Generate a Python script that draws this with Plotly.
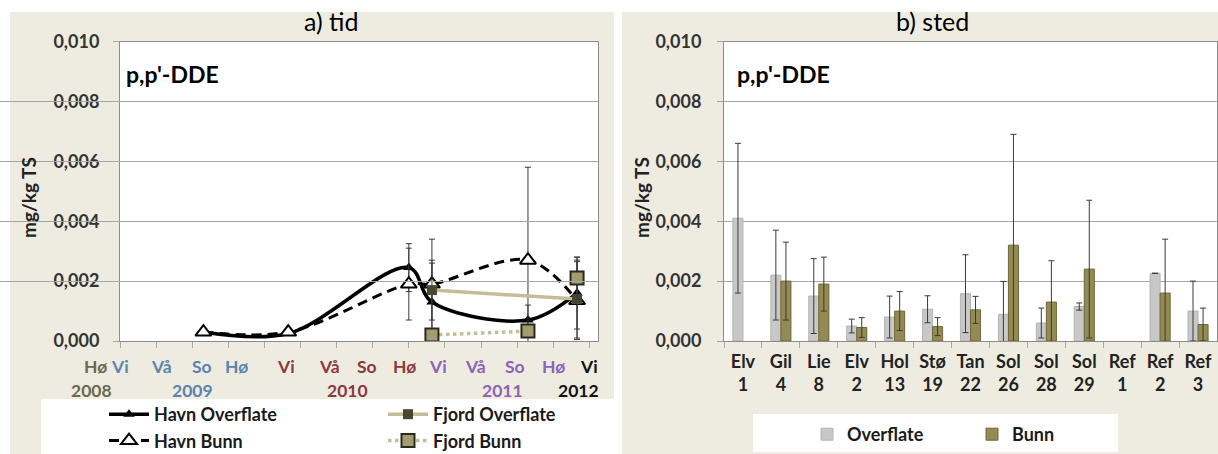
import plotly.graph_objects as go

W, H = 1218, 454

# ---------------- Left panel (a) tid) data ----------------
# x = season index (Hø 2008 = 0, Vi 2009 = 1, ..., Vi 2012 = 13)
havn_x = [3.31, 5.66, 9.0, 9.64, 12.3, 13.66]
havn_overflate = [0.0003, 0.00025, 0.00245, 0.0013, 0.0007, 0.0016]
havn_overflate_err = [0, 0, 0.0008, 0.0013, 0.0005, 0.0012]
havn_bunn = [0.0003, 0.0003, 0.0019, 0.0019, 0.0027, 0.00135]
havn_bunn_err = [0, 0, 0.0012, 0.0015, 0.0031, 0.0013]
fjord_overflate_x = [9.64, 13.66]
fjord_overflate = [0.0017, 0.0014]
fjord_overflate_err = [0.001, 0.0013]
fjord_bunn_x = [9.64, 12.3, 12.3, 13.66]
fjord_bunn = [0.0002, 0.00033, None, 0.0021]
fjord_bunn_err = [0, 0, 0, 0.0007]

season_labels = ["Hø", "Vi", "Vå", "So", "Hø", "Vi", "Vå", "So", "Hø", "Vi", "Vå", "So", "Hø", "Vi"]
season_label_x = [0.31, 1.0, 2.16, 3.26, 4.23, 5.6, 6.8, 7.85, 8.88, 9.8, 10.85, 11.95, 13.0, 14.0]
OLIVE, BLUE, MAROON, PURPLE, BLACK = "#6b6a4e", "#5b84b1", "#8c3a3a", "#8e62b8", "#111111"
season_colors = [OLIVE, BLUE, BLUE, BLUE, BLUE, MAROON, MAROON, MAROON, MAROON,
                 PURPLE, PURPLE, PURPLE, PURPLE, BLACK]
year_labels = ["2008", "2009", "2010", "2011", "2012"]
year_x = [0.22, 3.0, 7.3, 11.6, 13.7]
year_colors = [OLIVE, BLUE, MAROON, PURPLE, BLACK]

# ---------------- Right panel (b) sted) data ----------------
sites = ["Elv 1", "Gil 4", "Lie 8", "Elv 2", "Hol 13", "Stø 19", "Tan 22",
         "Sol 26", "Sol 28", "Sol 29", "Ref 1", "Ref 2", "Ref 3"]
overflate = [0.0041, 0.0022, 0.0015, 0.0005, 0.0008, 0.00106, 0.00158,
             0.00089, 0.0006, 0.00115, None, 0.00226, 0.001]
overflate_err = [0.0025, 0.0015, 0.00125, 0.00023, 0.0007, 0.00045, 0.0013,
                 0.0011, 0.0005, 0.00012, None, 0, 0.001]
bunn = [None, 0.002, 0.0019, 0.00045, 0.001, 0.00048, 0.00104,
        0.0032, 0.0013, 0.0024, None, 0.0016, 0.00055]
bunn_err = [None, 0.0013, 0.0009, 0.00033, 0.00065, 0.0003, 0.00045,
            0.0037, 0.00138, 0.0023, None, 0.0018, 0.00055]

y_ticks = [0, 0.002, 0.004, 0.006, 0.008, 0.010]

FONT = "Lato"
BEIGE = "#eeece1"
GRID = "#a6a6a6"
ERR = "#3a3a3a"
KHAKI = "#c4bd97"

# pixel layout of the two plot areas
L0, L1 = 120, 598
R0, R1 = 724, 1217
T, B = 41.5, 341
X_RANGE = [1, 14.24]
PPU = (L1 - L0) / (X_RANGE[1] - X_RANGE[0])

def px(xp):
    return xp / W

def py(yp):
    return 1 - yp / H

fig = go.Figure()
err_style = dict(type="data", color=ERR, thickness=1, width=3)

fig.add_trace(go.Scatter(
    x=havn_x, y=havn_overflate, name="Havn Overflate", mode="lines+markers",
    line=dict(color="black", width=3.5, shape="spline", smoothing=1),
    marker=dict(symbol="triangle-up", size=10, color="black"),
    error_y=dict(array=havn_overflate_err, **err_style),
    xaxis="x", yaxis="y", legend="legend"))
fig.add_trace(go.Scatter(
    x=havn_x, y=havn_bunn, name="Havn Bunn", mode="lines+markers",
    line=dict(color="black", width=3, dash="10px,6px", shape="spline", smoothing=1),
    marker=dict(symbol="triangle-up", size=14, color="white", line=dict(color="black", width=2)),
    error_y=dict(array=havn_bunn_err, **err_style),
    xaxis="x", yaxis="y", legend="legend"))
fig.add_trace(go.Scatter(
    x=fjord_overflate_x, y=fjord_overflate, name="Fjord Overflate", mode="lines+markers",
    line=dict(color=KHAKI, width=3.5),
    marker=dict(symbol="square", size=10, color="#4a4630"),
    error_y=dict(array=fjord_overflate_err, **err_style),
    xaxis="x", yaxis="y", legend="legend2"))
fig.add_trace(go.Scatter(
    x=fjord_bunn_x, y=fjord_bunn, name="Fjord Bunn", mode="lines+markers",
    line=dict(color=KHAKI, width=3.5, dash="dot"),
    marker=dict(symbol="square", size=13, color="#a39c70", line=dict(color="#2a2a1c", width=2)),
    error_y=dict(array=fjord_bunn_err, **err_style),
    xaxis="x", yaxis="y", legend="legend2"))

bar_err = dict(type="data", color=ERR, thickness=1, width=3)
fig.add_trace(go.Bar(
    x=sites, y=overflate, name="Overflate",
    marker=dict(color="#c8c8c8", line=dict(color="#b4b4b4", width=1)),
    error_y=dict(array=overflate_err, **bar_err),
    xaxis="x2", yaxis="y2", legend="legend3"))
fig.add_trace(go.Bar(
    x=sites, y=bunn, name="Bunn",
    marker=dict(color="#948a54", line=dict(color="#6e6638", width=1)),
    error_y=dict(array=bunn_err, **bar_err),
    xaxis="x2", yaxis="y2", legend="legend3"))

tick_font = dict(family=FONT, size=18, color="#333333", weight="bold")
leg_font = dict(family=FONT, size=18, color="#1a1a1a", weight="bold")

yaxis_common = dict(
    range=[0, 0.010], tickvals=y_ticks, tickformat=".3f",
    showgrid=True, gridcolor=GRID, gridwidth=1,
    showline=True, linecolor="#8c8c8c", linewidth=1, mirror=True,
    ticks="outside", ticklen=6, tickcolor=GRID,
    ticklabelstandoff=10, zeroline=False, tickfont=tick_font,
    automargin=False, domain=[py(B), py(T)],
)

fig.update_layout(
    width=W, height=H, template="none", separators=",.",
    margin=dict(l=0, r=0, t=0, b=0, pad=0, autoexpand=False),
    paper_bgcolor="white", plot_bgcolor="rgba(0,0,0,0)",
    barmode="group", bargap=0.47, bargroupgap=0,
    xaxis=dict(domain=[px(L0), px(L1)], range=X_RANGE, anchor="y",
               tickvals=list(range(1, 15)), showticklabels=False,
               ticks="outside", ticklen=6, tickcolor=GRID, showgrid=False,
               showline=True, linecolor="#8c8c8c", linewidth=1, mirror=True,
               zeroline=False, automargin=False),
    yaxis=dict(anchor="x", **yaxis_common),
    xaxis3=dict(domain=[0, px(L1)], range=[X_RANGE[0] - L0 / PPU, X_RANGE[1]],
                anchor="y", visible=False, automargin=False),
    xaxis2=dict(domain=[px(R0), px(R1)], anchor="y2", type="category",
                tickmode="array", tickvals=sites,
                ticktext=[s.replace(" ", "<br>") for s in sites],
                tickson="boundaries", ticks="outside", ticklen=6, tickcolor=GRID,
                ticklabelstandoff=4,
                showgrid=False, showline=True, linecolor="#8c8c8c", linewidth=1,
                mirror=True, zeroline=False, automargin=False,
                tickfont=dict(family=FONT, size=18, color="#222222", weight="bold")),
    yaxis2=dict(anchor="x2", **dict(yaxis_common, ticklabelstandoff=12)),
    showlegend=True,
    legend=dict(x=px(104), y=py(396), xanchor="left", yanchor="top",
                orientation="v", bgcolor="rgba(0,0,0,0)", tracegroupgap=0,
                itemwidth=40, font=leg_font),
    legend2=dict(x=px(383), y=py(396), xanchor="left", yanchor="top",
                 orientation="v", bgcolor="rgba(0,0,0,0)", tracegroupgap=0,
                 itemwidth=40, font=leg_font),
    legend3=dict(x=px(807), y=py(416), xanchor="left", yanchor="top",
                 orientation="h", entrywidth=120, bgcolor="rgba(0,0,0,0)",
                 font=leg_font),
)

shapes = [
    dict(type="rect", xref="paper", yref="paper", x0=px(10), x1=px(614), y0=0, y1=py(12),
         fillcolor=BEIGE, line=dict(width=0), layer="below"),
    dict(type="rect", xref="paper", yref="paper", x0=px(622), x1=1, y0=0, y1=py(12),
         fillcolor=BEIGE, line=dict(width=0), layer="below"),
    dict(type="rect", xref="x domain", yref="y domain", x0=0, x1=1, y0=0, y1=1,
         fillcolor="white", line=dict(width=0), layer="below"),
    dict(type="rect", xref="x2 domain", yref="y2 domain", x0=0, x1=1, y0=0, y1=1,
         fillcolor="white", line=dict(width=0), layer="below"),
    dict(type="rect", xref="paper", yref="paper", x0=px(41), x1=px(614), y0=0, y1=py(399),
         fillcolor="white", line=dict(width=0), layer="below"),
    dict(type="rect", xref="paper", yref="paper", x0=px(753), x1=px(1118), y0=py(452), y1=py(414),
         fillcolor="white", line=dict(width=0), layer="below"),
]
fig.update_layout(shapes=shapes)

lab_font = dict(family=FONT, size=17.5, weight="bold")
ann = []
for lab, xv, col in zip(season_labels, season_label_x, season_colors):
    ann.append(dict(text=lab, x=xv, y=py(366), xref="x3", yref="paper", showarrow=False,
                    xanchor="center", yanchor="middle", font=dict(lab_font, color=col)))
for lab, xv, col in zip(year_labels, year_x, year_colors):
    ann.append(dict(text=lab, x=xv, y=py(390), xref="x3", yref="paper", showarrow=False,
                    xanchor="center", yanchor="middle", font=dict(lab_font, color=col)))
ann += [
    dict(text="a) tid", x=px(331), y=py(21), xref="paper", yref="paper", showarrow=False,
         xanchor="center", yanchor="middle", font=dict(family=FONT, size=25, color="black")),
    dict(text="b) sted", x=px(932), y=py(21), xref="paper", yref="paper", showarrow=False,
         xanchor="center", yanchor="middle", font=dict(family=FONT, size=25, color="black")),
    dict(text="p,p'-DDE", x=px(124), y=py(74), xref="paper", yref="paper", showarrow=False,
         xanchor="left", yanchor="middle",
         font=dict(family=FONT, size=23, color="black", weight="bold")),
    dict(text="p,p'-DDE", x=px(735), y=py(74), xref="paper", yref="paper", showarrow=False,
         xanchor="left", yanchor="middle",
         font=dict(family=FONT, size=23, color="black", weight="bold")),
    dict(text="mg/kg TS", x=px(28), y=py(198), xref="paper", yref="paper", showarrow=False,
         textangle=-90, xanchor="center", yanchor="middle",
         font=dict(family=FONT, size=19, color="#222222", weight="bold")),
    dict(text="mg/kg TS", x=px(641), y=py(198), xref="paper", yref="paper", showarrow=False,
         textangle=-90, xanchor="center", yanchor="middle",
         font=dict(family=FONT, size=19, color="#222222", weight="bold")),
]
fig.update_layout(annotations=ann)

fig.write_html(
    "out.html",
    config={"displayModeBar": False},
    post_script="document.body.style.margin='0';document.body.style.padding='0';"
                "document.documentElement.style.overflow='hidden';",
)
